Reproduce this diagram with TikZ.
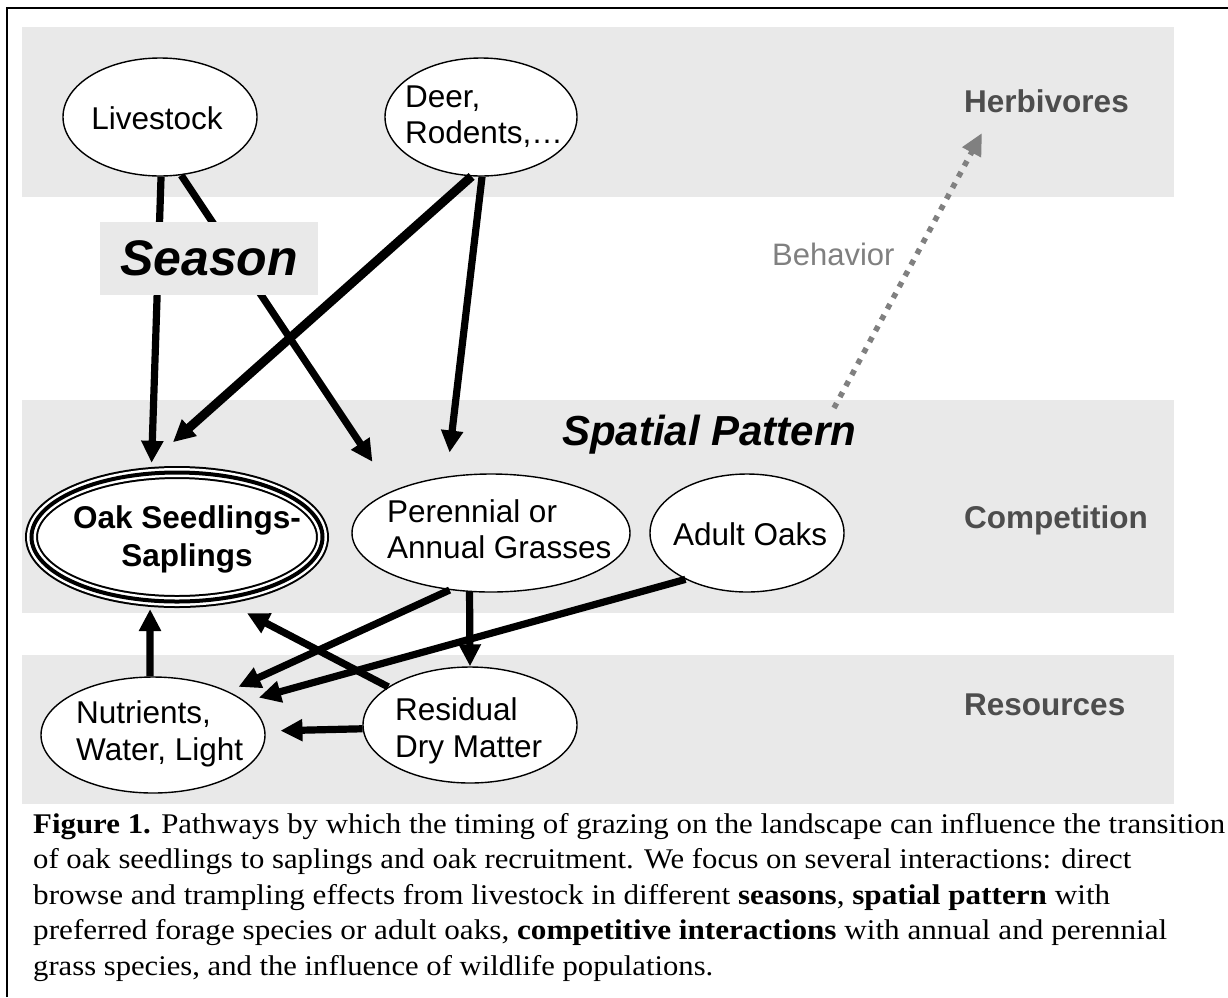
\documentclass[tikz,border=0pt]{standalone}
\usepackage{fontspec}
\usepackage{graphicx}
\setmainfont{Liberation Serif}
\newfontfamily\arialf{Liberation Sans}
\usetikzlibrary{shapes.geometric,arrows.meta}
\definecolor{bandgray}{RGB}{233,233,233}
\definecolor{sidegray}{RGB}{77,77,77}
\definecolor{midgray}{RGB}{128,128,128}
\newcommand{\nodefont}{\arialf\fontsize{31.5}{36}\selectfont}
\begin{document}
\begin{tikzpicture}[x=1pt,y=-1pt,
  ell/.style={ellipse, draw, line width=1.4pt, fill=white, inner sep=0pt},
  ntxt/.style={font=\nodefont, inner sep=0pt, anchor=base west},
  side/.style={font=\arialf\bfseries\fontsize{31.5}{36}\selectfont, text=sidegray, anchor=base west, inner sep=0pt},
  arr/.style={line width=7.2pt, -{Triangle[length=22pt,width=21pt]}},
  captxt/.style={anchor=base west, inner sep=0pt, font=\fontsize{28.5}{34}\selectfont},
  behav/.style={draw=midgray, line width=5.5pt, dash pattern=on 5.5pt off 7pt, -{Triangle[length=22pt,width=20pt]}, midgray}
]
\useasboundingbox (0,0) rectangle (1228,997);
\fill[white] (0,0) rectangle (1228,997);
% bands
\fill[bandgray] (22,27) rectangle (1174,197);
\fill[bandgray] (22,400) rectangle (1174,613);
\fill[bandgray] (22,655) rectangle (1174,804);
% frame
\draw[line width=2pt] (7,997) -- (7,8) -- (1228,8);

% side labels
\node[side] (herb) at (964,112) {Herbivores};
\node[side] (comp) at (964,528) {Competition};
\node[side] (resl) at (964,715) {Resources};

% ellipses
\node[ell, minimum width=194pt, minimum height=118pt] (live) at (160,117) {};
\node[ell, minimum width=192pt, minimum height=118pt] (deer) at (481,117) {};
\node[ellipse, fill=white, inner sep=0pt, minimum width=304pt, minimum height=142pt] (oak) at (177,537) {};
\draw[line width=13pt] (oak.center) ellipse [x radius=145.5pt, y radius=64.5pt];
\draw[white, line width=9pt] (oak.center) ellipse [x radius=145.5pt, y radius=64.5pt];
\draw[line width=4pt] (oak.center) ellipse [x radius=145.5pt, y radius=64.5pt];
\node[ell, minimum width=278pt, minimum height=118pt] (per) at (491,533) {};
\node[ell, minimum width=194pt, minimum height=118pt] (adult) at (747,533) {};
\node[ell, minimum width=224pt, minimum height=116pt] (nut) at (153,735) {};
\node[ell, minimum width=214pt, minimum height=116pt] (res) at (470,725) {};

% node texts
\node[ntxt, anchor=base] (liveT) at (157,129.3) {Livestock};
\node[ntxt] (deerT1) at (405,107) {Deer,};
\node[ntxt] (deerT2) at (405,143) {Rodents,…};
\node[ntxt, anchor=base, font=\nodefont\bfseries] (oakT1) at (187,528) {Oak Seedlings-};
\node[ntxt, anchor=base, font=\nodefont\bfseries] (oakT2) at (187,566.5) {Saplings};
\node[ntxt] (perT1) at (387,522) {Perennial or};
\node[ntxt] (perT2) at (387,558) {Annual Grasses};
\node[ntxt] (adultT) at (673,545) {Adult Oaks};
\node[ntxt] (nutT1) at (76,723) {Nutrients,};
\node[ntxt] (nutT2) at (76,760) {Water, Light};
\node[ntxt] (resT1) at (395,720) {Residual};
\node[ntxt] (resT2) at (395,757) {Dry Matter};

% connectors
\draw[arr, shorten >=4pt] (live.271) -- (oak.110);
\draw[arr, shorten >=35pt] (live.290) -- (per.157.4);
\draw[arr, line width=9pt, shorten >=38pt] (deer.261.5) -- (oak.115.6);
\draw[arr, shorten >=24pt] (deer.271) -- (per.128.8);
\draw[arr, shorten >=2pt] (nut.93) -- (oak.249);
\draw[arr, shorten >=20pt] (res.155.9) -- (oak.308.8);
\draw[arr, shorten >=15pt] (res.182.7) -- (nut.2.6);
\draw[arr, shorten >=11pt] (per.234) -- (nut.30.4);
\draw[arr] (per.250.4) -- (res.north);
\draw[arr, shorten >=14pt] (adult.217.4) -- (nut.20.8);

% season box on top
\node[fill=bandgray, minimum width=218pt, minimum height=73pt, inner sep=0pt,
      font=\arialf\bfseries\itshape\fontsize{50}{60}\selectfont] (season) at (209,258.5) {Season};
\node[anchor=base west, inner sep=0pt, font=\arialf\bfseries\itshape\fontsize{42}{48}\selectfont] (spat) at (562,445) {Spatial Pattern};

% behavior
\coordinate (behS) at (834,408);
\coordinate (behE) at (982,133);
\draw[behav] (behS) -- (behE);
\node[anchor=base west, inner sep=0pt, text=midgray, font=\arialf\fontsize{31}{36}\selectfont] (behT) at (772,265) {Behavior};

% caption
\node[captxt] (c1) at (33,833) {\resizebox{1192pt}{\height}{\textbf{Figure 1.} Pathways by which the timing of grazing on the landscape can influence the transition}};
\node[captxt] (c2) at (33,868.5) {\resizebox{1098pt}{\height}{of oak seedlings to saplings and oak recruitment. We focus on several interactions: direct}};
\node[captxt] (c3) at (33,904) {\resizebox{1077pt}{\height}{browse and trampling effects from livestock in different \textbf{seasons}, \textbf{spatial pattern} with}};
\node[captxt] (c4) at (33,939.5) {\resizebox{1134pt}{\height}{preferred forage species or adult oaks, \textbf{competitive interactions} with annual and perennial}};
\node[captxt] (c5) at (33,975) {\resizebox{680pt}{\height}{grass species, and the influence of wildlife populations.}};
\end{tikzpicture}
\end{document}
